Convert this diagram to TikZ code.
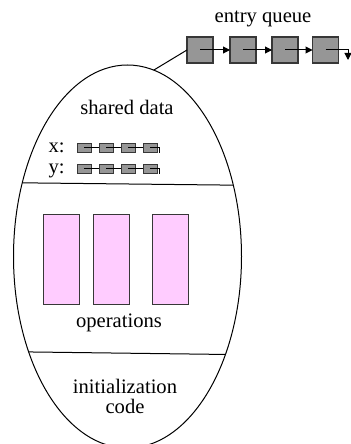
\documentclass[tikz,border=0pt]{standalone}
\usepackage{fontspec}
\setmainfont{Liberation Serif}
\usetikzlibrary{arrows.meta,shapes.geometric,positioning}
\definecolor{cellgray}{RGB}{150,150,150}
\definecolor{oppink}{RGB}{255,204,255}
\definecolor{edgegray}{RGB}{55,55,55}

\begin{document}
\begin{tikzpicture}[x=0.5pt, y=-0.5pt, line width=0.5pt,
		every node/.style={font=\fontsize{10.3}{12.4}\selectfont},
		monitor/.style={ellipse, draw, minimum width=114pt, minimum height=191.5pt, inner sep=0pt, outer sep=0pt},
		qbox/.style={rectangle, draw=edgegray, line width=0.9pt, fill=cellgray, minimum size=13pt, inner sep=0pt, outer sep=0pt},
		cell/.style={rectangle, draw=edgegray, fill=cellgray, minimum width=7pt, minimum height=4.5pt, inner sep=0pt},
		opbox/.style={rectangle, draw=edgegray, fill=oppink, minimum width=18pt, minimum height=45pt, inner sep=0pt},
		lbl/.style={anchor=base, inner sep=0pt},
		>={Triangle[length=3.5pt,width=3.5pt]}
		]
	\useasboundingbox (0,0) rectangle (350,444);

	% --- le moniteur ---
	\node[monitor] (mon) at (127.5,256.5) {};
	\draw (mon.145.5) -- (mon.34.5);
	\draw (mon.224.4) -- (mon.315.6);

	% --- file d'entrée ---
	\node[lbl] (eqlabel) at (263,23) {entry queue};
	\node[qbox] (q1) at (200,50) {};
	\node[qbox] (q2) at (243,50) {};
	\node[qbox] (q3) at (285,50) {};
	\node[qbox] (q4) at (325.5,50) {};
	\coordinate (qend) at (348,60);

	\draw (mon.82.5) -- (q1.west);
	\draw[->] (q1.center) -- (q2.west);
	\draw[->] (q2.center) -- (q3.west);
	\draw[->] (q3.center) -- (q4.west);
	\draw[->] (q4.center) -| (qend);

	% --- données partagées ---
	\node[lbl] (shared) at (127,115) {shared data};
	\node[lbl, anchor=base west] (xlabel) at (48,152) {x:};
	\node[lbl, anchor=base west] (ylabel) at (48,173) {y:};

	\node[cell] (x1) at (84,147.5) {};
	\node[cell, right=3.5pt of x1] (x2) {};
	\node[cell, right=3.5pt of x2] (x3) {};
	\node[cell, right=3.5pt of x3] (x4) {};
	\coordinate (xend) at (159,153);

	\node[cell] (y1) at (84,168.5) {};
	\node[cell, right=3.5pt of y1] (y2) {};
	\node[cell, right=3.5pt of y2] (y3) {};
	\node[cell, right=3.5pt of y3] (y4) {};
	\coordinate (yend) at (159,174);

	\draw (x1.center) -- (x2.west);
	\draw (x2.center) -- (x3.west);
	\draw (x3.center) -- (x4.west);
	\draw (x4.center) -| (xend);
	\draw (y1.center) -- (y2.west);
	\draw (y2.center) -- (y3.west);
	\draw (y3.center) -- (y4.west);
	\draw (y4.center) -| (yend);

	% --- opérations ---
	\node[opbox] (op1) at (61,259) {};
	\node[opbox] (op2) at (111.5,259) {};
	\node[opbox] (op3) at (170.5,259) {};
	\node[lbl] (ops) at (119,327) {operations};

	% --- initialisation ---
	\node[lbl] (init) at (125,393) {initialization};
	\node[lbl] (code) at (125,413) {code};

\end{tikzpicture}
\end{document}
